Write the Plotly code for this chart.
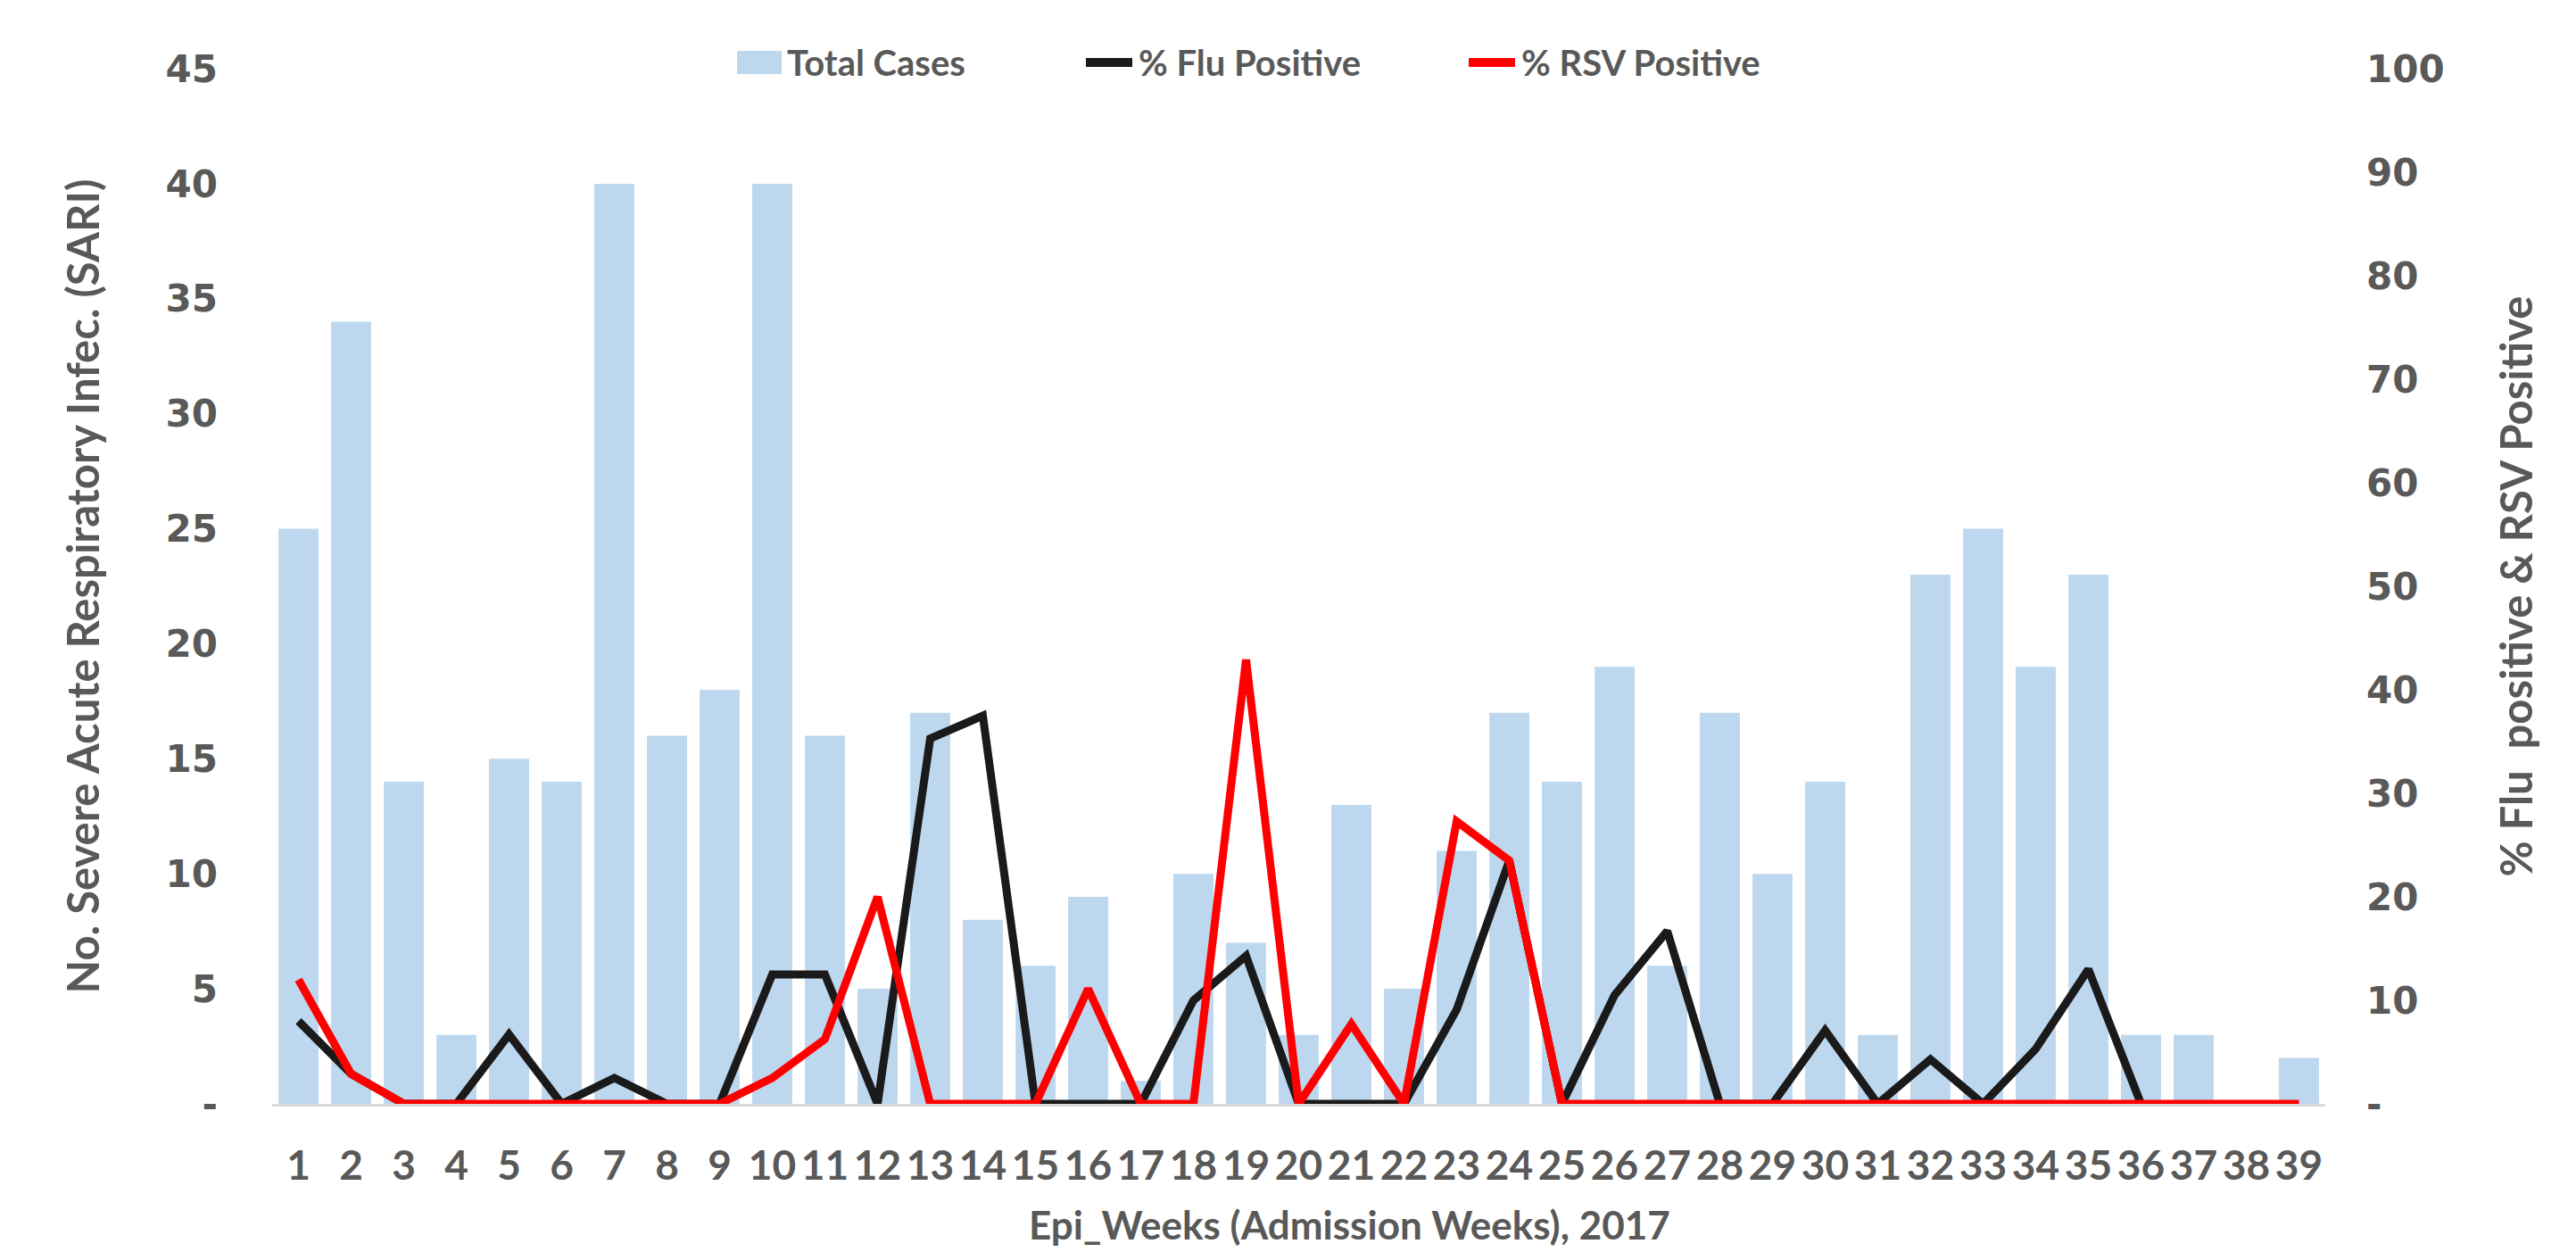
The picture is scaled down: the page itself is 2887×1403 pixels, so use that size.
import plotly.graph_objects as go

weeks = list(range(1, 40))
total_cases = [25, 34, 14, 3, 15, 14, 40, 16, 18, 40,
               16, 5, 17, 8, 6, 9, 1, 10, 7, 3,
               13, 5, 11, 17, 14, 19, 6, 17, 10, 14,
               3, 23, 25, 19, 23, 3, 3, 0, 2]
flu_pct = [8.0, 2.9, 0, 0, 6.7, 0, 2.5, 0, 0, 12.5,
           12.5, 0, 35.3, 37.5, 0, 0, 0, 10.0, 14.3, 0,
           0, 0, 9.1, 23.5, 0, 10.5, 16.7, 0, 0, 7.1,
           0, 4.3, 0, 5.3, 13.0, 0, None, None, None]
rsv_pct = [12.0, 2.9, 0, 0, 0, 0, 0, 0, 0, 2.5,
           6.25, 20.0, 0, 0, 0, 11.1, 0, 0, 42.9, 0,
           7.7, 0, 27.3, 23.5, 0, 0, 0, 0, 0, 0,
           0, 0, 0, 0, 0, 0, 0, 0, 0]

left_ticks = [0, 5, 10, 15, 20, 25, 30, 35, 40, 45]
left_ticktext = ["-", "5", "10", "15", "20", "25", "30", "35", "40", "45"]
right_ticks = [0, 10, 20, 30, 40, 50, 60, 70, 80, 90, 100]
right_ticktext = ["-", "10", "20", "30", "40", "50", "60", "70", "80", "90", "100"]

series_names = ["Total Cases", "% Flu Positive", "% RSV Positive"]
series_colors = ["#BDD7EE", "#1A1A1A", "#FF0000"]

W, H = 2887, 1403
ML, MR, MT, MB = 305, 281, 77, 166
PW, PH = W - ML - MR, H - MT - MB


def px_x(px):
    return (px - ML) / PW


def px_y(py):
    return (H - MB - py) / PH


TXT = "#595959"
NUMFONT = dict(family="DejaVu Sans", size=42, color=TXT, weight="bold")
LABFONT = dict(family="Lato", size=49, color=TXT, weight="bold")

fig = go.Figure()
fig.add_trace(go.Bar(x=weeks, y=total_cases, name=series_names[0],
                     marker=dict(color=series_colors[0], line=dict(width=0)), yaxis="y"))
fig.add_trace(go.Scatter(x=weeks, y=flu_pct, name=series_names[1], mode="lines",
                         line=dict(color=series_colors[1], width=9), yaxis="y2",
                         connectgaps=False))
fig.add_trace(go.Scatter(x=weeks, y=rsv_pct, name=series_names[2], mode="lines",
                         line=dict(color=series_colors[2], width=9), yaxis="y2"))

# custom legend (layout decoration)
shapes = []
annotations = []
leg_y = 70
shapes.append(dict(type="rect", xref="paper", yref="paper",
                   x0=px_x(826), x1=px_x(876), y0=px_y(leg_y + 13), y1=px_y(leg_y - 13),
                   fillcolor=series_colors[0], line=dict(width=0)))
for x0, col in [(1217, series_colors[1]), (1646, series_colors[2])]:
    shapes.append(dict(type="line", xref="paper", yref="paper",
                       x0=px_x(x0), x1=px_x(x0 + 52), y0=px_y(leg_y), y1=px_y(leg_y),
                       line=dict(color=col, width=10)))
for tx, name in zip([880, 1274, 1703], series_names):
    annotations.append(dict(xref="paper", yref="paper", x=px_x(tx), y=px_y(leg_y),
                            xanchor="left", yanchor="middle", text=name, showarrow=False,
                            font=dict(family="Lato", size=40, color=TXT, weight="bold")))
# x-axis title placed like the original
annotations.append(dict(xref="paper", yref="paper", x=px_x(1512), y=px_y(1372),
                        xanchor="center", yanchor="middle",
                        text="Epi_Weeks (Admission Weeks), 2017", showarrow=False,
                        font=dict(family="Lato", size=44, color=TXT, weight="bold")))

fig.update_layout(
    width=W, height=H,
    margin=dict(l=ML, r=MR, t=MT, b=MB, autoexpand=False),
    paper_bgcolor="white", plot_bgcolor="white",
    bargap=0.24,
    showlegend=False,
    shapes=shapes,
    annotations=annotations,
    xaxis=dict(range=[0.5, 39.5], tickmode="array", tickvals=weeks,
               ticktext=[str(w) for w in weeks],
               tickfont=dict(family="Lato", size=46, color=TXT, weight="bold"),
               ticks="", ticklabelstandoff=27, automargin=False,
               showline=True, linecolor="#D9D9D9", linewidth=3,
               showgrid=False, zeroline=False),
    yaxis=dict(range=[0, 45], tickmode="array", tickvals=left_ticks,
               ticktext=left_ticktext, tickfont=NUMFONT, ticks="", automargin=False,
               ticklabelstandoff=60, showline=False, showgrid=False, zeroline=False,
               title=dict(text="No. Severe Acute Respiratory Infec. (SARI)",
                          font=LABFONT, standoff=58)),
    yaxis2=dict(range=[0, 100], overlaying="y", side="right", tickmode="array",
                tickvals=right_ticks, ticktext=right_ticktext, tickfont=NUMFONT,
                ticks="", ticklabelstandoff=45, showline=False, showgrid=False,
                zeroline=False, automargin=False,
                title=dict(text="% Flu  positive & RSV Positive", font=LABFONT,
                           standoff=65)),
)

fig.write_html("out.html", config={"displayModeBar": False},
               post_script="document.body.style.margin='0';document.body.style.overflow='hidden';")
